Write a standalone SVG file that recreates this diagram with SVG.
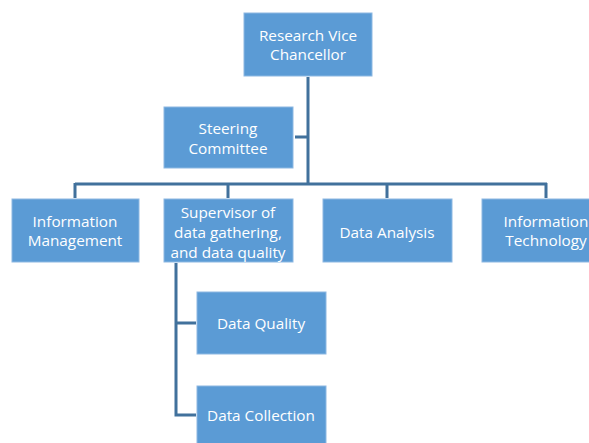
<svg xmlns="http://www.w3.org/2000/svg" width="589" height="443" viewBox="0 0 589 443">
<style>
.box{fill:#5B9BD5;stroke:#8DB8E2;stroke-width:1}
.t{font-family:"Open Sans","Liberation Sans",sans-serif;font-size:15.3px;fill:#fff;text-anchor:middle;dominant-baseline:central}
.c{stroke:#41719C;stroke-width:3;fill:none}
</style>
<rect width="589" height="443" fill="#fff"/>
<g id="connectors">
<path class="c" d="M308 77V184M295 137H308M75 184H547M75 183V198M228 183V198M387 183V198M546 183V198M176 263V415H196M176 323H196"/>
</g>
<g id="root"><rect class="box" x="244" y="13" width="128" height="63"/><text class="t" x="308" y="35">Research Vice</text><text class="t" x="308" y="54">Chancellor</text></g>
<g id="steering"><rect class="box" x="164" y="107" width="129" height="61"/><text class="t" x="228" y="128">Steering</text><text class="t" x="228" y="148">Committee</text></g>
<g id="info-mgmt"><rect class="box" x="12" y="199" width="127" height="63"/><text class="t" x="75" y="221">Information</text><text class="t" x="75" y="240">Management</text></g>
<g id="supervisor"><rect class="box" x="164" y="199" width="129" height="63"/><text class="t" x="228" y="212">Supervisor of</text><text class="t" x="228" y="232">data gathering,</text><text class="t" x="228" y="252">and data quality</text></g>
<g id="data-analysis"><rect class="box" x="323" y="199" width="129" height="63"/><text class="t" x="387" y="232">Data Analysis</text></g>
<g id="info-tech"><rect class="box" x="482" y="199" width="129" height="63"/><text class="t" x="546" y="221">Information</text><text class="t" x="546" y="240">Technology</text></g>
<g id="data-quality"><rect class="box" x="197" y="292" width="129" height="62"/><text class="t" x="261" y="323">Data Quality</text></g>
<g id="data-collection"><rect class="box" x="197" y="386" width="129" height="62"/><text class="t" x="261" y="415">Data Collection</text></g>
</svg>
